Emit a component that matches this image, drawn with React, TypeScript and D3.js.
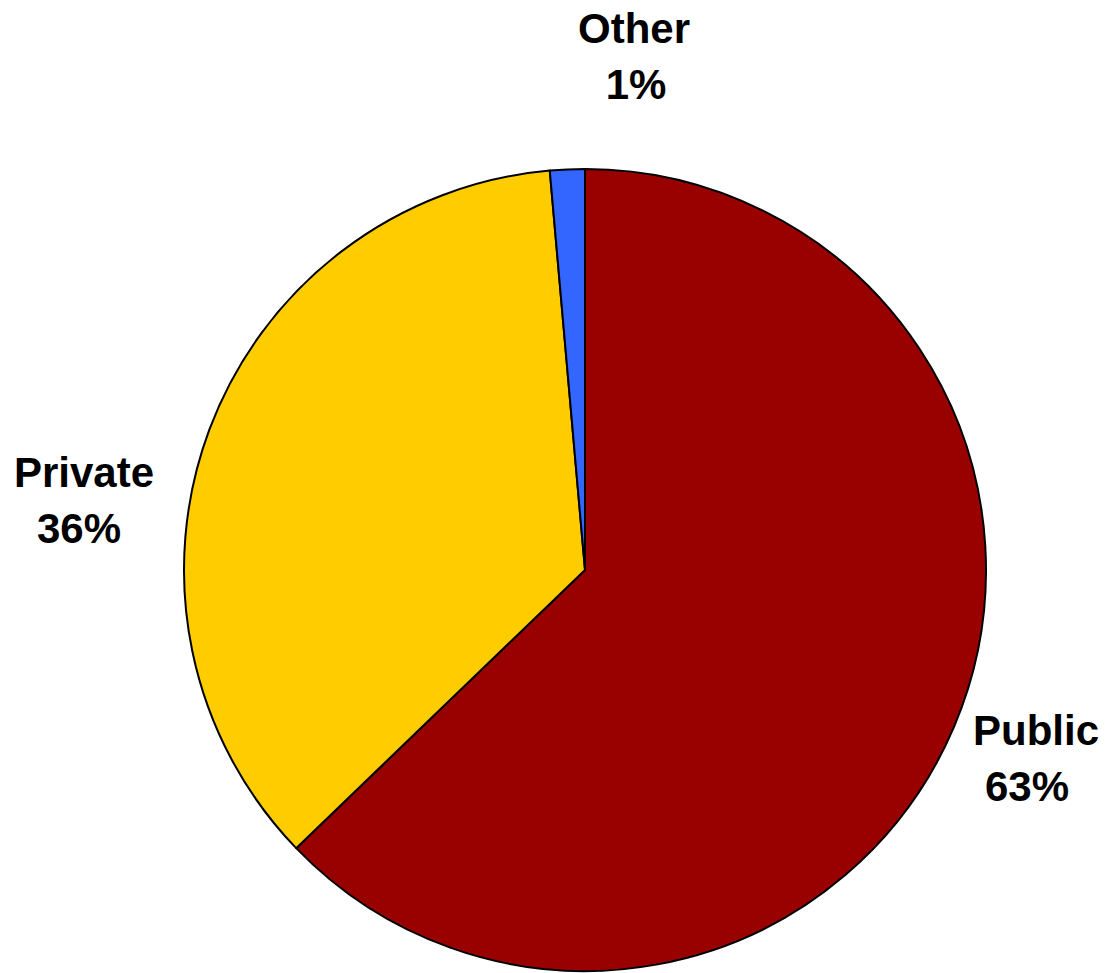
import React from "react";
import * as d3 from "d3";

const categories = ["Public", "Private", "Other"];
const values = [62.8, 35.8, 1.4];
const percentLabels = ["63%", "36%", "1%"];
const colors = ["#990000", "#FFCC00", "#3366FF"];

const W = 1105;
const H = 973;
const cx = 585;
const cy = 570;
const R = 401;

// label positions (centers of each line, first-line baseline)
const labelPos: Record<string, { x1: number; x2: number; y: number }> = {
  Public: { x1: 1036, x2: 1027, y: 745 },
  Private: { x1: 84, x2: 79, y: 487 },
  Other: { x1: 634, x2: 636, y: 43 },
};

export default function App() {
  const data = categories.map((c, i) => ({ name: c, value: values[i], label: percentLabels[i], color: colors[i] }));
  const pie = d3
    .pie<any>()
    .value((d) => d.value)
    .sort(null)
    .startAngle(0)
    .endAngle(2 * Math.PI);
  const arcs = pie(data);
  const arcGen = d3.arc<any>().innerRadius(0).outerRadius(R);

  return (
    <svg
      width={W}
      height={H}
      style={{ position: "absolute", left: 0, top: 0, background: "#fff" }}
      fontFamily="'Liberation Sans', Arial, sans-serif"
    >
      <g transform={`translate(${cx},${cy})`}>
        {arcs.map((a, i) => (
          <path key={i} d={arcGen(a) as string} fill={a.data.color} stroke="#000" strokeWidth={2} strokeLinejoin="round" />
        ))}
      </g>
      {data.map((d) => {
        const p = labelPos[d.name];
        return (
          <g key={d.name} fontWeight="bold" fontSize={42} fill="#000" textAnchor="middle">
            <text x={p.x1} y={p.y}>{d.name}</text>
            <text x={p.x2} y={p.y + 56}>{d.label}</text>
          </g>
        );
      })}
    </svg>
  );
}
